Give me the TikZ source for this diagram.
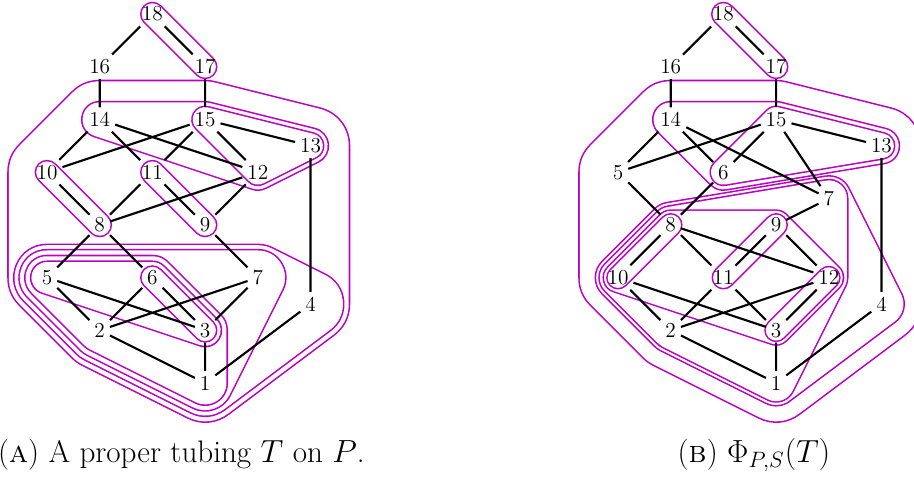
\documentclass[tikz,border=0pt]{standalone}
\usepackage{xcolor}
\usepackage{tikz}
\usetikzlibrary{backgrounds}
\definecolor{tubepurple}{HTML}{BB00C4}

\begin{document}
\begin{tikzpicture}[
  vertex/.style={
    inner sep=2.5pt,
    font=\fontsize{11.5}{13}\selectfont,
  },
  cover/.style={
    line width=1.15pt,
    draw=black,
  },
  tube/.style={
    draw=tubepurple,
    line width=0.85pt,
    double=white,
    double distance=2*#1-0.85pt,
    line join=round,
    postaction={fill=white},
  },
  caption/.style={
    font=\fontsize{16.8}{19}\selectfont,
  },
]
  \useasboundingbox (-0.892,-1.803) rectangle (16.452,7.268);

  \node[vertex] (a1) at (3,0) {1};
  \node[vertex] (a2) at (1,1) {2};
  \node[vertex] (a3) at (3,1) {3};
  \node[vertex] (a4) at (5,1.5) {4};
  \node[vertex] (a5) at (0,2) {5};
  \node[vertex] (a6) at (2,2) {6};
  \node[vertex] (a7) at (4,2) {7};
  \node[vertex] (a8) at (1,3) {8};
  \node[vertex] (a9) at (3,3) {9};
  \node[vertex] (a10) at (0,4) {10};
  \node[vertex] (a11) at (2,4) {11};
  \node[vertex] (a12) at (4,4) {12};
  \node[vertex] (a13) at (5,4.5) {13};
  \node[vertex] (a14) at (1,5) {14};
  \node[vertex] (a15) at (3,5) {15};
  \node[vertex] (a16) at (1,6) {16};
  \node[vertex] (a17) at (3,6) {17};
  \node[vertex] (a18) at (2,7) {18};
  \node[caption] (capa) at (2.55,-1.37) {(\textsc{a}) A proper tubing $T$ on $P$.};

  \begin{scope}[on background layer]
    \draw[tube=0.74cm] (a14.center) -- (a15.center) -- (a13.center) -- (a4.center) -- (a1.center) -- (a2.center) -- (a5.center) -- (a10.center) -- cycle;
    \draw[tube=0.34cm] (a14.center) -- (a15.center) -- (a13.center) -- (a12.center) -- cycle;
    \draw[tube=0.25cm] (a15.center) -- (a13.center) -- (a12.center) -- cycle;
    \draw[tube=0.63cm] (a5.center) -- (a7.center) -- (a4.center) -- (a1.center) -- (a2.center) -- cycle;
    \draw[tube=0.53cm] (a5.center) -- (a7.center) -- (a1.center) -- (a2.center) -- cycle;
    \draw[tube=0.42cm] (a5.center) -- (a6.center) -- (a3.center) -- (a1.center) -- (a2.center) -- cycle;
    \draw[tube=0.31cm] (a5.center) -- (a6.center) -- (a3.center) -- cycle;
    \draw[tube=0.22cm] (a6.center) -- (a3.center) -- cycle;
    \draw[tube=0.22cm] (a10.center) -- (a8.center) -- cycle;
    \draw[tube=0.22cm] (a11.center) -- (a9.center) -- cycle;
    \draw[tube=0.22cm] (a18.center) -- (a17.center) -- cycle;
  \end{scope}

  \draw[cover] (a18) -- (a16) (a18) -- (a17) (a16) -- (a14) (a17) -- (a15);
  \draw[cover] (a14) -- (a10) (a14) -- (a11) (a14) -- (a12);
  \draw[cover] (a15) -- (a10) (a15) -- (a11) (a15) -- (a12) (a15) -- (a13);
  \draw[cover] (a10) -- (a8) (a11) -- (a8) (a11) -- (a9) (a12) -- (a8) (a12) -- (a9);
  \draw[cover] (a8) -- (a5) (a8) -- (a6) (a9) -- (a7) (a13) -- (a4);
  \draw[cover] (a5) -- (a2) (a5) -- (a3) (a6) -- (a2) (a6) -- (a3) (a7) -- (a2) (a7) -- (a3);
  \draw[cover] (a2) -- (a1) (a3) -- (a1) (a4) -- (a1);

  \begin{scope}[xshift=10.835cm]
    \node[vertex] (b1) at (3,0) {1};
    \node[vertex] (b2) at (1,1) {2};
    \node[vertex] (b3) at (3,1) {3};
    \node[vertex] (b4) at (5,1.5) {4};
    \node[vertex] (b10) at (0,2) {10};
    \node[vertex] (b11) at (2,2) {11};
    \node[vertex] (b12) at (4,2) {12};
    \node[vertex] (b8) at (1,3) {8};
    \node[vertex] (b9) at (3,3) {9};
    \node[vertex] (b7) at (4,3.5) {7};
    \node[vertex] (b5) at (0,4) {5};
    \node[vertex] (b6) at (2,4) {6};
    \node[vertex] (b13) at (5,4.5) {13};
    \node[vertex] (b14) at (1,5) {14};
    \node[vertex] (b15) at (3,5) {15};
    \node[vertex] (b16) at (1,6) {16};
    \node[vertex] (b17) at (3,6) {17};
    \node[vertex] (b18) at (2,7) {18};
    \node[caption] (capb) at (2.58,-1.37) {(\textsc{b}) $\Phi_{P,S}(T)$};

    \begin{scope}[on background layer]
      \draw[tube=0.74cm] (b14.center) -- (b15.center) -- (b13.center) -- (b4.center) -- (b1.center) -- (b2.center) -- (b10.center) -- (b5.center) -- cycle;
      \draw[tube=0.34cm] (b14.center) -- (b15.center) -- (b13.center) -- (b6.center) -- cycle;
      \draw[tube=0.25cm] (b15.center) -- (b13.center) -- (b6.center) -- cycle;
      \draw[tube=0.43cm] (b8.center) -- (b7.center) -- (b4.center) -- (b1.center) -- (b2.center) -- (b10.center) -- cycle;
      \draw[tube=0.36cm] (b8.center) -- (b7.center) -- (b12.center) -- (b1.center) -- (b2.center) -- (b10.center) -- cycle;
      \draw[tube=0.28cm] (b8.center) -- (b9.center) -- (b12.center) -- (b3.center) -- (b10.center) -- cycle;
      \draw[tube=0.21cm] (b10.center) -- (b8.center) -- cycle;
      \draw[tube=0.21cm] (b11.center) -- (b9.center) -- cycle;
      \draw[tube=0.21cm] (b12.center) -- (b3.center) -- cycle;
      \draw[tube=0.22cm] (b18.center) -- (b17.center) -- cycle;
    \end{scope}

    \draw[cover] (b18) -- (b16) (b18) -- (b17) (b16) -- (b14) (b17) -- (b15);
    \draw[cover] (b14) -- (b5) (b14) -- (b6) (b14) -- (b7);
    \draw[cover] (b15) -- (b5) (b15) -- (b6) (b15) -- (b7) (b15) -- (b13);
    \draw[cover] (b5) -- (b8) (b6) -- (b8) (b7) -- (b9) (b13) -- (b4);
    \draw[cover] (b8) -- (b10) (b8) -- (b11) (b8) -- (b12) (b9) -- (b11) (b9) -- (b12);
    \draw[cover] (b10) -- (b2) (b10) -- (b3) (b11) -- (b2) (b11) -- (b3) (b12) -- (b2) (b12) -- (b3);
    \draw[cover] (b2) -- (b1) (b3) -- (b1) (b4) -- (b1);
  \end{scope}
\end{tikzpicture}
\end{document}
